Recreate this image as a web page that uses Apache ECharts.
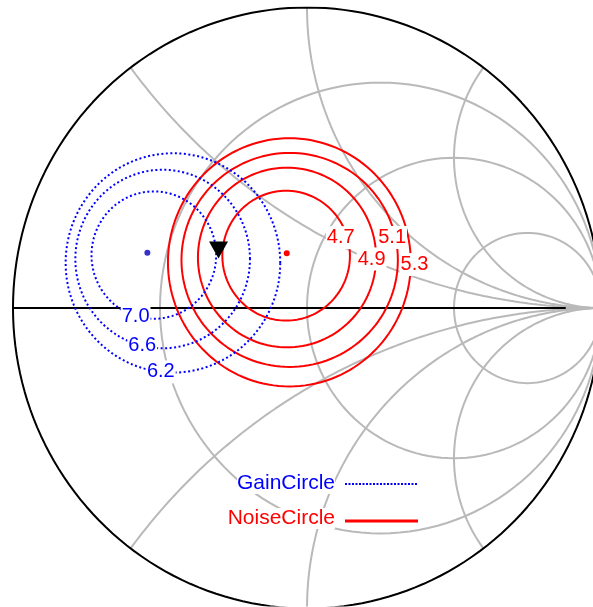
<!DOCTYPE html>
<html>
<head>
<meta charset="utf-8">
<title>Gain / Noise circles</title>
<script src="https://cdn.jsdelivr.net/npm/echarts@6/dist/echarts.min.js"></script>
<style>
  html, body { margin: 0; padding: 0; background: #fff; }
  #chart { width: 593px; height: 607px; }
</style>
</head>
<body>
<div id="chart"></div>
<script>
// smith chart grid values
const resistanceValues = [1 / 3, 1, 3]
const reactanceValues = [0.5, 1, 2]
const realAxisLine = [-1, 0.88]

// available gain circles (dB) – centre / radius in reflection coefficient units
const gainLevels = ['7.0', '6.6', '6.2']
const gainCenterU = [-0.521, -0.491, -0.456]
const gainCenterV = [0.176, 0.163, 0.150]
const gainRadius = [0.212, 0.297, 0.365]
const gainLabelAngle = [-107, -103.5, -96.5]
const gainOptimum = [-0.543, 0.184]

// noise figure circles (dB)
const noiseLevels = ['4.7', '4.9', '5.1', '5.3']
const noiseCenterU = [-0.071, -0.068, -0.059, -0.060]
const noiseCenterV = [0.174, 0.168, 0.160, 0.152]
const noiseRadiusU = [0.217, 0.303, 0.368, 0.413]
const noiseRadiusV = [0.216, 0.299, 0.356, 0.413]
const noiseLabelAngle = [18, -1, 12.5, -1]
const noiseLabelDist = [0.9, 0.95, 0.97, 1.03]
const noiseOptimum = [-0.069, 0.182]

// selected source point
const sourcePoint = [-0.301, 0.193]

const FONT = '"Liberation Sans", Arial, sans-serif'
const GRAY = '#b9b9b9'
const BLUE = '#0000ff'
const RED = '#ff0000'

function ellipsePoints(cu, cv, ru, rv, n = 144) {
  const pts = []
  for (let i = 0; i <= n; i++) {
    const t = (i / n) * 2 * Math.PI
    pts.push([cu + ru * Math.cos(t), cv + rv * Math.sin(t)])
  }
  return pts
}

function reactanceArc(x, n = 120) {
  const ax = Math.abs(x)
  const R = 1 / ax
  const d = ax * ax + 1
  let t0 = Math.atan2((ax * ax - 1) / d, -2 * ax / d)
  if (t0 < 0) t0 += 2 * Math.PI
  const t1 = 1.5 * Math.PI
  const pts = []
  for (let i = 0; i <= n; i++) {
    const t = t0 + (t1 - t0) * i / n
    const v = R + R * Math.sin(t)
    pts.push([1 + R * Math.cos(t), x > 0 ? v : -v])
  }
  return pts
}

function lineSeries(data, style, z) {
  return {
    type: 'line',
    data,
    symbol: 'none',
    silent: true,
    z: z || 2,
    lineStyle: style,
    animation: false,
  }
}

const series = []

// grid
resistanceValues.forEach(r => {
  series.push(lineSeries(ellipsePoints(r / (1 + r), 0, 1 / (1 + r), 1 / (1 + r)), { color: GRAY, width: 2 }))
})
reactanceValues.forEach(x => {
  series.push(lineSeries(reactanceArc(x), { color: GRAY, width: 2 }))
  series.push(lineSeries(reactanceArc(-x), { color: GRAY, width: 2 }))
})
series.push(lineSeries([[-1, 0], [1, 0]], { color: GRAY, width: 2 }))
series.push(lineSeries(ellipsePoints(0, 0, 1, 1, 200), { color: '#000', width: 2 }, 3))
series.push(lineSeries(realAxisLine.map(u => [u, 0]), { color: '#000', width: 2 }, 3))

// noise circles
noiseLevels.forEach((lv, i) => {
  series.push(lineSeries(
    ellipsePoints(noiseCenterU[i], noiseCenterV[i], noiseRadiusU[i], noiseRadiusV[i]),
    { color: RED, width: 2 }, 4))
})

// gain circles
gainLevels.forEach((lv, i) => {
  series.push(lineSeries(
    ellipsePoints(gainCenterU[i], gainCenterV[i], gainRadius[i], gainRadius[i]),
    { color: BLUE, width: 2, type: [2, 2.5] }, 5))
})

// circle labels
const labelData = []
gainLevels.forEach((lv, i) => {
  const a = gainLabelAngle[i] * Math.PI / 180
  labelData.push({
    value: [gainCenterU[i] + gainRadius[i] * Math.cos(a), gainCenterV[i] + gainRadius[i] * Math.sin(a)],
    label: { formatter: lv, color: BLUE },
  })
})
noiseLevels.forEach((lv, i) => {
  const a = noiseLabelAngle[i] * Math.PI / 180
  const f = noiseLabelDist[i]
  labelData.push({
    value: [noiseCenterU[i] + f * noiseRadiusU[i] * Math.cos(a), noiseCenterV[i] + f * noiseRadiusV[i] * Math.sin(a)],
    label: { formatter: lv, color: RED },
  })
})

series.push({
  type: 'scatter',
  data: [{ value: gainOptimum, itemStyle: { color: '#3333cc' } }, { value: noiseOptimum, itemStyle: { color: RED } }],
  symbol: 'circle',
  symbolSize: 6,
  itemStyle: { opacity: 1 },
  silent: true,
  z: 6,
  animation: false,
})

series.push({
  type: 'scatter',
  data: [sourcePoint],
  symbol: 'triangle',
  symbolRotate: 180,
  symbolSize: [19, 17],
  itemStyle: { color: '#000', opacity: 1 },
  silent: true,
  z: 7,
  animation: false,
})

series.push({
  type: 'scatter',
  data: labelData,
  symbolSize: 0,
  itemStyle: { opacity: 1 },
  silent: true,
  z: 8,
  animation: false,
  label: {
    show: true,
    position: 'inside',
    fontFamily: FONT,
    fontSize: 20,
    lineHeight: 23,
    backgroundColor: '#fff',
    padding: [0, 1],
  },
})

const chart = echarts.init(document.getElementById('chart'), null, { renderer: 'canvas' })

chart.setOption({
  animation: false,
  backgroundColor: '#fff',
  grid: { left: 13, right: 0.8, top: 7.5, bottom: 1.5 },
  xAxis: { type: 'value', min: -1, max: 0.97, show: false },
  yAxis: { type: 'value', min: -0.99, max: 1, show: false },
  series,
  graphic: [
    {
      type: 'text', x: 335, y: 483.5, z: 20,
      style: { text: 'GainCircle', font: '21px ' + FONT, fill: BLUE, align: 'right', verticalAlign: 'middle', backgroundColor: '#fff' },
    },
    {
      type: 'line', z: 20,
      shape: { x1: 345, y1: 484, x2: 418, y2: 484 },
      style: { stroke: BLUE, lineWidth: 2, lineDash: [2, 1.5] },
    },
    {
      type: 'text', x: 335, y: 518.5, z: 20,
      style: { text: 'NoiseCircle', font: '21px ' + FONT, fill: RED, align: 'right', verticalAlign: 'middle', backgroundColor: '#fff' },
    },
    {
      type: 'line', z: 20,
      shape: { x1: 345, y1: 521, x2: 418, y2: 521 },
      style: { stroke: RED, lineWidth: 3 },
    },
  ],
})

window.addEventListener('resize', () => chart.resize())
</script>
</body>
</html>
